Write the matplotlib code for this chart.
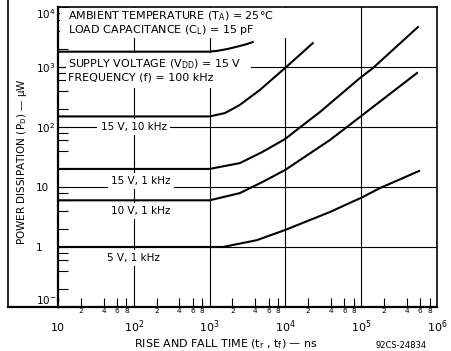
import matplotlib
matplotlib.use('Agg')
import matplotlib.pyplot as plt
from matplotlib.lines import Line2D
from matplotlib.patches import Rectangle
from matplotlib.ticker import FixedLocator, FixedFormatter

plt.rcParams['font.family'] = ['DejaVu Sans']
plt.rcParams['mathtext.default'] = 'regular'

# Curvas (tempo de subida/descida em ns, potencia em uW)
t_15v_100k = [10, 1000, 1300, 1700, 2300, 3000, 3700]
p_15v_100k = [1800, 1800, 1870, 1990, 2180, 2380, 2600]

t_15v_10k = [10, 1000, 1600, 2500, 4600, 9900, 23000]
p_15v_10k = [150, 150, 171, 233, 414, 962, 2500]

t_15v_1k = [10, 1000, 2500, 4900, 9900, 15000, 28600, 96400, 143000, 561000]
p_15v_1k = [20, 20, 25, 38, 63, 95, 178, 656, 962, 4640]

t_10v_1k = [10, 1000, 2500, 5100, 9900, 38700, 96400, 545000]
p_10v_1k = [6, 6, 7.9, 12.3, 19.2, 60.7, 147, 794]

t_5v_1k = [10, 1500, 4200, 9900, 38700, 102000, 177000, 580000]
p_5v_1k = [1, 1, 1.3, 1.92, 3.83, 6.7, 9.6, 18.5]

curvas = [(t_15v_100k, p_15v_100k), (t_15v_10k, p_15v_10k), (t_15v_1k, p_15v_1k),
          (t_10v_1k, p_10v_1k), (t_5v_1k, p_5v_1k)]

# rotulos das curvas: (texto, x, y)
rotulos = [("15 V, 10 kHz", 100, 100), ("15 V, 1 kHz", 124, 12.6),
           ("10 V, 1 kHz", 124, 3.98), ("5 V, 1 kHz", 100, 0.656)]

x_decadas = [10, 1e2, 1e3, 1e4, 1e5, 1e6]
x_rotulos = ["10", "$10^{2}$", "$10^{3}$", "$10^{4}$", "$10^{5}$", "$10^{6}$"]
y_decadas = [1e-1, 1, 10, 1e2, 1e3, 1e4]
y_rotulos = ["$10^{-1}$", "1", "10", "$10^{2}$", "$10^{3}$", "$10^{4}$"]
mult = [2, 4, 6, 8]

fig = plt.figure(figsize=(4.51, 3.51), dpi=100)
ax = fig.add_axes([58 / 451, 1 - 307 / 351, 379 / 451, 300 / 351])
ax.set_xscale('log')
ax.set_yscale('log')
ax.set_xlim(10, 1e6)
ax.set_ylim(1e-1, 1e4)

# grade
for xv in x_decadas[1:-1]:
    ax.axvline(xv, color='black', lw=0.8, zorder=1)
for yv in y_decadas[1:-1]:
    ax.axhline(yv, color='black', lw=0.8, zorder=1)

# areas brancas atras dos textos de condicoes
ax.add_patch(Rectangle((0.004, 0.897), 0.62, 0.1, transform=ax.transAxes,
                       facecolor='white', edgecolor='none', zorder=2))
ax.add_patch(Rectangle((0.02, 0.73), 0.488, 0.117, transform=ax.transAxes,
                       facecolor='white', edgecolor='none', zorder=2))

for t, p in curvas:
    ax.plot(t, p, color='black', lw=1.5, zorder=4)

for texto, xv, yv in rotulos:
    ax.text(xv, yv, texto, fontsize=7.5, ha='center', va='center', zorder=3,
            bbox=dict(facecolor='white', edgecolor='none', pad=2.5))

ax.text(0.026, 0.97, "AMBIENT TEMPERATURE (T$_\\mathregular{A}$) = 25°C",
        transform=ax.transAxes, fontsize=8, va='center', zorder=3)
ax.text(0.026, 0.923, "LOAD CAPACITANCE (C$_\\mathregular{L}$) = 15 pF",
        transform=ax.transAxes, fontsize=8, va='center', zorder=3)
ax.text(0.026, 0.808, "SUPPLY VOLTAGE (V$_\\mathregular{DD}$) = 15 V",
        transform=ax.transAxes, fontsize=8, va='center', zorder=3)
ax.text(0.026, 0.766, "FREQUENCY (f) = 100 kHz",
        transform=ax.transAxes, fontsize=8, va='center', zorder=3)

# eixos e marcas
ax.xaxis.set_major_locator(FixedLocator(x_decadas))
ax.xaxis.set_major_formatter(FixedFormatter(x_rotulos))
ax.xaxis.set_minor_locator(FixedLocator([m * d for d in x_decadas[:-1] for m in mult]))
ax.xaxis.set_minor_formatter(FixedFormatter([str(m) for d in x_decadas[:-1] for m in mult]))

ax.yaxis.set_major_locator(FixedLocator(y_decadas))
ax.yaxis.set_major_formatter(FixedFormatter(y_rotulos))
ax.yaxis.set_minor_locator(FixedLocator([m * d for d in y_decadas[:-1] for m in mult]))
ax.yaxis.set_minor_formatter(FixedFormatter([]))

ax.tick_params(axis='x', which='major', direction='in', length=0, pad=17.5, labelsize=8)
ax.tick_params(axis='x', which='minor', direction='in', length=6.5, width=0.8,
               pad=0.5, labelsize=5.3)
ax.tick_params(axis='y', which='both', direction='in', length=7.5, width=0.8,
               pad=16, labelsize=7.5)
for lbl in ax.get_xticklabels():
    lbl.set_verticalalignment('baseline')
ylbls = ax.get_yticklabels()
for lbl in ylbls:
    lbl.set_horizontalalignment('left')
ylbls[0].set_verticalalignment('bottom')
ylbls[-1].set_verticalalignment('top')

for lado in ['left', 'bottom']:
    ax.spines[lado].set_linewidth(1.6)
for lado in ['top', 'right']:
    ax.spines[lado].set_linewidth(1.2)

fig.text(22 / 451, 1 - 162 / 351, "POWER DISSIPATION (P$_\\mathregular{D}$) — µW",
         rotation=90, ha='center', va='center', fontsize=7.5)
fig.text(226 / 451, 1 - 344 / 351, "RISE AND FALL TIME (t$_\\mathregular{r}$ , t$_\\mathregular{f}$) — ns",
         ha='center', va='center', fontsize=8)
fig.text(401 / 451, 1 - 346 / 351, "92CS-24834", ha='center', va='center', fontsize=6)

# moldura externa do desenho original
fig.add_artist(Line2D([8 / 451, 8 / 451], [1.0, 1 - 307 / 351], color='black', lw=1.2))
fig.add_artist(Line2D([8 / 451, 58 / 451], [1 - 307 / 351, 1 - 307 / 351], color='black', lw=1.6))

fig.savefig('out.png', dpi=100)
